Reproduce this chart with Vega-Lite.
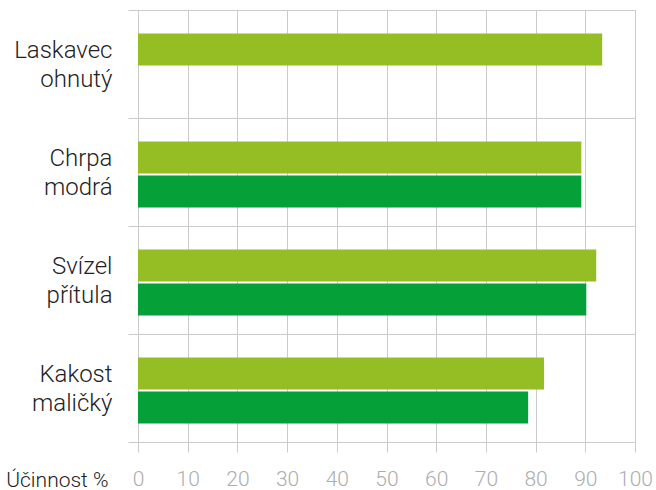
{
  "$schema": "https://vega.github.io/schema/vega-lite/v6.json",
  "width": 497,
  "height": 432,
  "autosize": {"type": "none"},
  "padding": {"left": 138, "top": 10, "right": 21, "bottom": 48},
  "background": "white",
  "config": {
    "font": "Roboto",
    "view": {"stroke": "#cbcbcb", "strokeWidth": 1}
  },
  "data": {
    "values": [
      {"plevel": "Laskavec ohnutý", "serie": "A", "ucinnost": 93.4},
      {"plevel": "Chrpa modrá", "serie": "A", "ucinnost": 89.2},
      {"plevel": "Chrpa modrá", "serie": "B", "ucinnost": 89.2},
      {"plevel": "Svízel přítula", "serie": "A", "ucinnost": 92.2},
      {"plevel": "Svízel přítula", "serie": "B", "ucinnost": 90.2},
      {"plevel": "Kakost maličký", "serie": "A", "ucinnost": 81.7},
      {"plevel": "Kakost maličký", "serie": "B", "ucinnost": 78.5}
    ]
  },
  "mark": {"type": "bar"},
  "encoding": {
    "y": {
      "field": "plevel",
      "type": "nominal",
      "sort": ["Laskavec ohnutý", "Chrpa modrá", "Svízel přítula", "Kakost maličký"],
      "scale": {"paddingInner": 0, "paddingOuter": 0},
      "axis": {
        "title": null,
        "tickBand": "extent",
        "grid": true,
        "gridColor": "#cbcbcb",
        "tickColor": "#cbcbcb",
        "tickSize": 10,
        "domain": false,
        "labelExpr": "split(datum.label, ' ')",
        "labelFont": "Roboto",
        "labelFontWeight": 300,
        "labelFontSize": 24,
        "labelColor": "#222222",
        "labelPadding": 16,
        "labelLineHeight": 29,
        "labelOffset": -14
      }
    },
    "yOffset": {
      "field": "serie",
      "type": "nominal",
      "scale": {"paddingInner": 0.06, "paddingOuter": 0.62, "align": 0.56}
    },
    "x": {
      "field": "ucinnost",
      "type": "quantitative",
      "scale": {"domain": [0, 100], "nice": false},
      "axis": {
        "values": [0, 10, 20, 30, 40, 50, 60, 70, 80, 90, 100],
        "grid": true,
        "gridColor": "#cbcbcb",
        "tickColor": "#cbcbcb",
        "tickSize": 10,
        "domain": false,
        "labelFlush": false,
        "labelOverlap": false,
        "labelColor": "#adadad",
        "labelFont": "Roboto",
        "labelFontWeight": 300,
        "labelFontSize": 21,
        "labelPadding": 16,
        "title": "Účinnost %",
        "titleFont": "Roboto",
        "titleFontSize": 21,
        "titleFontWeight": 300,
        "titleColor": "#222222",
        "titleAlign": "right",
        "titleAnchor": null,
        "titleX": -30,
        "titleY": 44,
        "titleBaseline": "alphabetic"
      }
    },
    "color": {
      "field": "serie",
      "type": "nominal",
      "scale": {"domain": ["A", "B"], "range": ["#94be23", "#05a037"]},
      "legend": null
    }
  }
}
